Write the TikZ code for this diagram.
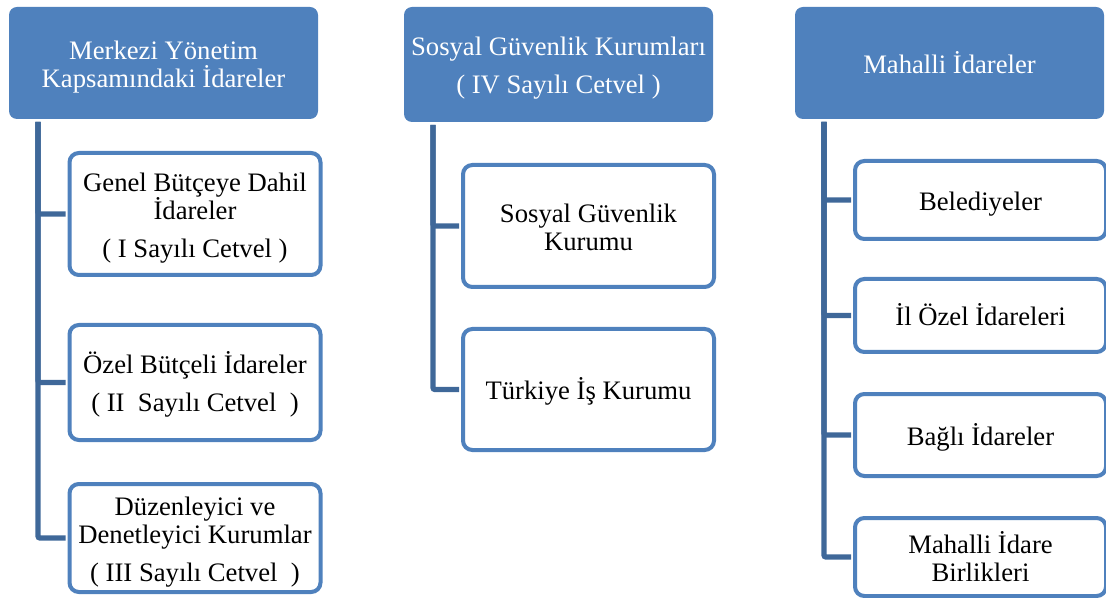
\documentclass[tikz,border=0pt]{standalone}
\usepackage{fontspec}
\setmainfont{Liberation Serif}
\usetikzlibrary{positioning}
\definecolor{hdrblue}{RGB}{79,129,189}
\definecolor{trunkblue}{RGB}{63,104,153}
\newcommand{\hdstrut}{\rule{0pt}{20pt}}

\tikzset{
  boxtext/.style={align=center, font=\fontsize{20}{21}\selectfont,
    execute at begin node={\hdstrut},
    execute at end node={\rule[-4.3pt]{0pt}{0pt}}},
  head/.style={rectangle, rounded corners=6pt, fill=hdrblue, text=white,
    minimum width=231.75pt, boxtext},
  leaf/.style={rectangle, rounded corners=7pt, draw=hdrblue, line width=3pt,
    fill=white, minimum width=188.25pt, boxtext},
  link/.style={draw=trunkblue, line width=4pt, rounded corners=1.5pt, shorten >=1.5pt}
}

\begin{document}
\begin{tikzpicture}[x=0.75pt, y=-0.75pt]
   \useasboundingbox (0,0) rectangle (1106,598);
   % Headers
   \node[head, minimum height=84pt] (merkezi) at (163.5,63) {\hdstrut Merkezi Yönetim\\Kapsamındaki İdareler};
   \node[head, minimum height=86.25pt] (sosyal) at (558.5,64.5) {\hdstrut Sosyal Güvenlik Kurumları\\[7.5pt]( IV Sayılı Cetvel )};
   \node[head, minimum height=84pt] (mahalli) at (949.5,63) {Mahalli İdareler};
   % Merkezi yonetim
   \node[leaf, minimum height=91.5pt] (genel) at (195,214) {\hdstrut Genel Bütçeye Dahil\\İdareler\\[7.5pt]( I Sayılı Cetvel )};
   \node[leaf, minimum height=86.25pt] (ozel) at (195,382.5) {\hdstrut Özel Bütçeli İdareler\\[7.5pt]( II\ \ Sayılı Cetvel\ \ )};
   \node[leaf, minimum height=81pt] (duzen) at (195,538) {\hdstrut Düzenleyici ve\\Denetleyici Kurumlar\\[7.5pt]( III Sayılı Cetvel\ \ )};
   % Sosyal guvenlik
   \node[leaf, minimum height=91.5pt] (sgk) at (588.5,226) {\hdstrut Sosyal Güvenlik\\Kurumu};
   \node[leaf, minimum height=90.75pt] (iskur) at (588.5,389.5) {Türkiye İş Kurumu};
   % Mahalli idareler
   \node[leaf, minimum height=58.5pt] (beled) at (980.5,200) {Belediyeler};
   \node[leaf, minimum height=54.75pt] (ilozel) at (980.5,315.5) {İl Özel İdareleri};
   \node[leaf, minimum height=61.5pt] (bagli) at (980.5,435) {Bağlı İdareler};
   \node[leaf, minimum height=58.5pt] (birlik) at (980.5,557) {\hdstrut Mahalli İdare\\Birlikleri};
   % Trunk tops
   \coordinate (t1) at (38,122);
   \coordinate (t2) at (433,125);
   \coordinate (t3) at (824,122);
   % Connect headers to their children
   \foreach \c in {genel, ozel, duzen}
      \draw[link] (t1) |- (\c.west);
   \foreach \c in {sgk, iskur}
      \draw[link] (t2) |- (\c.west);
   \foreach \c in {beled, ilozel, bagli, birlik}
      \draw[link] (t3) |- (\c.west);
\end{tikzpicture}
\end{document}
